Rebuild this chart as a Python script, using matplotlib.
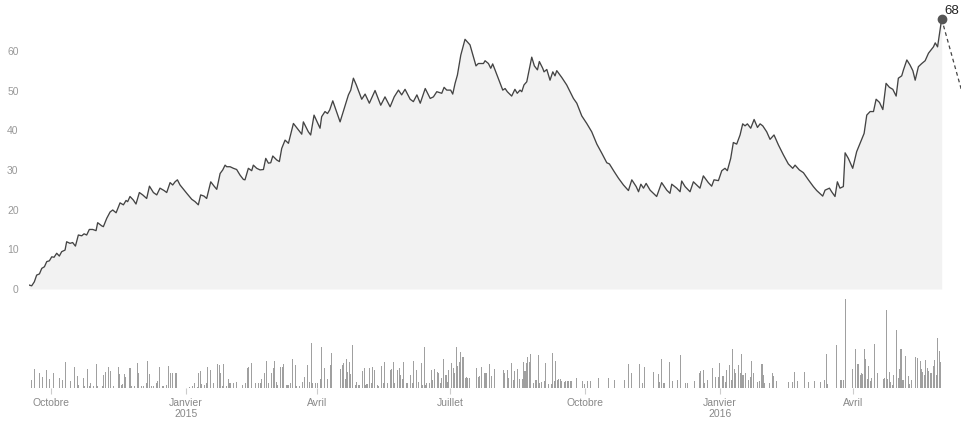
import matplotlib
matplotlib.use("Agg")
import matplotlib.pyplot as plt
import pandas as pd

plt.rcParams['font.family'] = ['Liberation Sans', 'DejaVu Sans']

# days are counted from the first day shown
start = pd.Timestamp('2014-09-16')

# line: vertices (day offset, value)
line_day = [0, 1.8, 3.6, 5.2, 7.1, 8.7, 10.5, 12.1, 13.9, 15.5, 17.1, 18.9, 20.7, 22.3, 24.6, 25.7,
            28.0, 29.8, 31.7, 33.7, 36.0, 37.6, 39.4, 41.2, 43.5, 45.8, 46.9, 49.7, 50.8, 53.1, 55.4,
            57.2, 59.5, 62.2, 64.5, 66.3, 67.4, 69.0, 71.3, 73.1, 75.4, 77.7, 80.4, 82.3, 85.0, 87.3,
            89.5, 92.3, 94.1, 96.4, 98.2, 99.8, 101.4, 103.2, 107.8, 111.2, 113.5, 115.7, 117.3, 119.6,
            121.4, 124.2, 126.5, 128.3, 130.6, 132.4, 134.0, 135.1, 137.4, 139.7, 141.9, 144.2, 146.5,
            147.6, 149.9, 152.2, 153.3, 155.6, 157.9, 160.2, 161.8, 163.6, 165.2, 166.6, 169.3, 171.1,
            172.7, 175.0, 177.3, 180.7, 185.2, 186.4, 187.5, 190.9, 192.5, 194.8, 198.9, 200.0, 202.3,
            204.0, 205.5, 207.6, 209.8, 212.6, 215.8, 218.3, 219.9, 221.7, 223.7, 227.4, 229.7, 232.6,
            236.5, 240.4, 243.3, 246.8, 249.6, 252.5, 254.7, 257.0, 260.5, 262.7, 265.1, 267.4, 270.8,
            274.2, 276.4, 278.7, 282.1, 283.7, 285.5, 288.2, 289.6, 291.2, 292.8, 295.1, 298.0, 301.4,
            305.5, 307.1, 310.6, 311.7, 314.0, 315.6, 316.9, 318.5, 323.8, 325.4, 326.9, 329.9, 332.1,
            333.7, 335.6, 336.8, 338.3, 340.2, 343.6, 345.4, 347.5, 348.8, 351.1, 352.0, 353.9, 356.1,
            358.0, 359.5, 360.7, 364.1, 367.5, 372.1, 374.4, 377.8, 381.2, 384.6, 388.1, 391.5, 394.9,
            396.7, 399.9, 402.9, 406.3, 409.7, 412.0, 415.0, 416.6, 418.2, 420.0, 421.8, 424.5, 426.8,
            429.0, 432.4, 435.9, 438.1, 439.3, 442.7, 445.0, 446.1, 448.4, 451.8, 454.1, 456.4, 458.6,
            460.9, 464.3, 466.6, 468.2, 471.2, 473.5, 475.7, 477.3, 479.6, 481.4, 483.7, 486.0, 487.8,
            489.4, 491.0, 493.3, 495.6, 497.9, 499.7, 501.5, 504.2, 506.5, 509.2, 512.2, 515.6, 519.0,
            522.0, 523.6, 526.5, 529.3, 532.7, 536.1, 538.4, 542.5, 544.1, 547.1, 548.6, 550.9, 552.5,
            554.3, 556.6, 557.8, 560.0, 563.0, 565.7, 568.0, 570.8, 572.6, 574.9, 577.2, 579.0, 581.3,
            583.6, 585.8, 588.1, 590.4, 592.7, 594.2, 596.5, 597.7, 600.0, 602.2, 604.1, 605.7, 607.9,
            610.2, 612.5, 614.8, 618.2, 619.4, 621.0, 623.8]
line_val = [1.0, 0.8, 1.8, 3.5, 3.8, 5.2, 5.6, 6.9, 7.1, 8.1, 8.0, 9.0, 8.3, 9.4, 9.8, 11.9,
            11.5, 11.7, 10.8, 13.6, 13.4, 13.9, 13.6, 15.0, 15.0, 14.7, 16.7, 15.9, 15.7, 17.8, 19.4,
            19.9, 19.2, 21.7, 21.2, 22.3, 22.0, 23.3, 22.4, 21.4, 24.3, 23.7, 22.8, 25.9, 24.3, 23.7,
            25.4, 24.8, 24.3, 26.8, 26.2, 27.0, 27.5, 26.2, 24.1, 22.6, 22.0, 21.2, 23.7, 23.4,
            22.8, 27.0, 25.9, 25.1, 29.1, 30.0, 31.2, 30.8, 30.8, 30.4, 30.1, 28.7, 27.6,
            27.5, 30.4, 29.8, 31.2, 30.4, 30.0, 30.1, 32.9, 31.7, 31.8, 33.5, 32.5, 32.1,
            35.4, 37.5, 36.7, 41.7, 39.6, 39.0, 42.1, 39.6, 38.8, 43.8, 40.5, 43.4, 44.7,
            44.2, 45.1, 47.4, 45.1, 42.1, 45.9, 48.9, 50.1, 53.1, 51.4, 47.8, 49.1, 46.8,
            50.0, 46.3, 48.4, 45.9, 48.4, 50.1, 48.9, 50.3, 47.8, 47.2, 48.9, 46.8, 50.5,
            48.0, 48.4, 49.7, 49.3, 50.8, 50.1, 50.1, 49.1, 51.8, 53.9, 58.9, 62.9, 61.5,
            56.2, 56.8, 56.8, 57.5, 56.8, 55.6, 56.7, 55.2, 50.1, 50.5, 49.7, 48.6, 50.3,
            49.3, 50.1, 49.7, 51.4, 52.2, 58.4, 56.2, 55.2, 57.3, 55.6, 54.7, 55.3, 52.6,
            54.7, 53.7, 55.0, 53.3, 51.4, 48.0, 46.8, 43.6, 41.7, 39.6, 36.5, 34.2, 31.8,
            31.5, 29.6, 27.9, 26.2, 24.8, 27.5, 25.8, 24.5, 26.4, 25.4, 26.6, 24.9, 24.1,
            23.3, 26.8, 24.9, 24.1, 26.4, 25.4, 24.5, 27.2, 25.8, 24.5, 27.0, 26.2, 25.4,
            28.5, 26.8, 25.9, 27.5, 27.3, 29.8, 30.4, 29.8, 32.9, 36.9, 36.5, 38.8, 41.6,
            41.1, 41.6, 40.5, 42.7, 40.7, 41.6, 41.1, 39.6, 37.7, 38.8, 36.3, 33.8, 31.5,
            30.4, 31.2, 30.0, 29.3, 27.5, 25.8, 24.8, 23.4, 24.9, 25.4, 24.5, 23.3, 27.0,
            25.4, 25.8, 34.3, 32.9, 30.4, 34.6, 36.7, 39.2, 43.8, 44.7, 44.7, 47.8, 47.0,
            45.2, 51.8, 50.8, 50.3, 48.6, 53.1, 53.7, 55.2, 57.7, 56.4, 55.0, 52.6, 56.0,
            56.8, 57.5, 59.4, 61.0, 62.0, 61.0, 68.0]

# dashed continuation after the last value
proj_day = [623.8, 645]
proj_val = [68.0, 40.0]

# daily bars in the lower panel (day offset, height)
bar_day = [2, 4, 7, 9, 12, 14, 17, 21, 23, 25, 28, 31, 33, 34, 37, 38, 40, 41, 42, 44, 46, 47, 50, 51,
           52, 54, 56, 58, 61, 62, 63, 64, 65, 66, 69, 70, 72, 74, 75, 77, 78, 80, 81, 82, 84, 85,
           87, 88, 89, 91, 92, 94, 95, 97, 98, 100, 101,
           110, 112, 113, 115, 116, 117, 118, 120, 121, 122, 124, 126, 129, 130, 131, 132, 133, 135,
           136, 137, 138, 140, 142, 146, 148, 149, 150, 152, 155, 157, 158, 159, 161, 162, 164, 166,
           167, 168, 169, 170, 172, 173, 174, 176, 177, 179, 180, 182, 183, 185, 187, 188, 190, 192,
           193, 194, 196, 197, 199, 200, 202, 204, 206, 207,
           213, 214, 215, 216, 217, 218, 219, 220, 221, 223, 224, 225, 226, 228, 229, 230, 231, 233,
           234, 235, 236, 238, 239, 241, 242, 243, 245, 247, 248, 249, 250, 252, 253, 254, 255, 256,
           258, 259, 261, 262, 263, 265, 266, 268, 269, 270, 271, 272, 274, 275, 276, 277, 279, 280,
           281, 282, 283, 285, 286, 287, 289, 290, 291, 292, 293, 294, 295, 296, 297, 298, 299, 300,
           301, 306, 307, 308, 309, 311,
           312, 313, 315, 316, 318, 324, 325, 327, 328, 330, 331, 332, 334, 335, 337, 338, 339, 340,
           341, 342, 343, 345, 346, 347, 348, 349, 350, 352, 353, 355, 357, 358, 359, 360, 361, 362,
           363, 364, 366, 367, 368, 369, 370, 371, 374, 378, 380, 382, 384, 389, 396, 400, 407, 410,
           412,
           417, 419, 421, 427, 430, 431, 432, 434, 438, 440, 443, 445, 449, 450, 455, 458, 459, 461,
           462, 464, 467, 469, 471, 472, 474, 475, 476, 477, 479, 480, 481, 482, 483, 485, 486, 487,
           488, 490, 492, 493, 494, 495, 498, 499, 501, 502, 503, 506, 508, 509, 511, 519,
           522, 523, 525, 530, 533, 537, 541, 544, 545, 546, 552, 555, 557, 558, 563, 565, 566, 567,
           568, 569, 570, 571, 572, 573, 574, 575, 576, 578, 580, 584, 585, 586, 587, 588, 589, 590,
           591, 593, 594, 595, 596, 597, 598, 599, 601, 602, 603, 606, 607, 609, 610, 611, 612, 613,
           614, 615, 616, 617, 618, 619, 620, 621, 622, 623]
bar_val = [8, 19, 15, 11, 18, 9, 15, 10, 8, 26, 7, 21, 12, 3, 10, 2, 19, 2, 5, 2, 24, 2, 2, 13,
           16, 21, 17, 2, 21, 14, 3, 4, 14, 11, 20, 2, 2, 25, 15, 2, 2, 5, 27, 14, 2, 2,
           5, 7, 21, 2, 2, 3, 22, 15, 15, 15, 15,
           1, 2, 5, 1, 15, 17, 4, 3, 5, 21, 18, 5, 24, 23, 15, 2, 24, 2,
           9, 5, 5, 5, 6, 3, 5, 20, 21, 25, 5, 5, 5, 9, 15, 27, 5, 15,
           20, 27, 6, 3, 21, 21, 24, 3, 3, 5, 29, 23, 2, 2, 6, 11, 23, 6,
           45, 5, 5, 5, 9, 41, 20, 9, 23, 35,
           19, 23, 25, 9, 29, 16, 26, 14, 43, 3, 6, 3, 3, 17, 20, 3, 4, 20,
           5, 21, 18, 3, 2, 22, 5, 26, 5, 18, 19, 26, 5, 18, 20, 13, 9, 26,
           5, 5, 13, 5, 27, 18, 6, 25, 3, 41, 3, 5, 5, 18, 8, 19, 16, 15,
           5, 10, 29, 13, 6, 18, 25, 20, 15, 41, 22, 26, 36, 31, 31, 10, 11, 10,
           10, 20, 11, 12, 21, 15,
           15, 15, 24, 12, 19, 18, 15, 18, 10, 25, 8, 17, 19, 9, 9, 26, 17, 25,
           31, 26, 34, 5, 8, 8, 33, 5, 6, 7, 25, 4, 4, 35, 7, 27, 8, 9,
           9, 7, 6, 7, 7, 7, 7, 7, 10, 7, 4, 7, 7, 10, 10, 8, 8, 24,
           15,
           24, 5, 21, 16, 14, 6, 29, 5, 26, 7, 8, 33, 5, 5, 7, 15, 17, 18,
           5, 8, 20, 11, 11, 25, 12, 12, 6, 18, 23, 8, 39, 19, 15, 23, 15, 34,
           13, 15, 8, 11, 27, 15, 6, 7, 24, 13, 5, 5, 15, 12, 7, 6,
           6, 16, 7, 16, 6, 7, 6, 8, 34, 4, 43, 8, 8, 89, 19, 39, 24, 24,
           13, 15, 14, 39, 29, 9, 22, 7, 10, 44, 15, 9, 10, 78, 9, 16, 6, 3,
           13, 58, 10, 19, 39, 8, 8, 32, 12, 4, 8, 31, 30, 27, 19, 16, 13, 28,
           20, 17, 15, 15, 22, 28, 13, 50, 37, 26]

y_ticks = [0, 10, 20, 30, 40, 50, 60]
month_dates = ['2014-10-01', '2015-01-01', '2015-04-01', '2015-07-01',
               '2015-10-01', '2016-01-01', '2016-04-01']
month_labels = ['Octobre', 'Janvier\n2015', 'Avril', 'Juillet',
                'Octobre', 'Janvier\n2016', 'Avril']
month_pos = [(pd.Timestamp(d) - start).days for d in month_dates]

x_max = 637.7

fig = plt.figure(figsize=(9.62, 4.23), dpi=100)
ax = fig.add_axes([0.0302, 0.3168, 0.9698, 0.6832])
axb = fig.add_axes([0.0302, 0.0827, 0.9698, 0.2175])

# top panel
ax.fill_between(line_day, line_val, 0, color='#f2f2f2', lw=0)
ax.plot(line_day, line_val, color='#444444', lw=0.95)
ax.plot(proj_day, proj_val, color='#444444', lw=0.9, ls=(0, (3, 2.5)))
ax.plot(line_day[-1], line_val[-1], 'o', color='#555555', ms=6)
ax.annotate(f'{line_val[-1]:.0f}', (line_day[-1], line_val[-1]), xytext=(2, 6),
            textcoords='offset points', ha='left', va='center', fontsize=9.5,
            color='#222222', annotation_clip=False)
ax.set_xlim(0, x_max)
ax.set_ylim(0, 72.8)
ax.set_yticks(y_ticks)
ax.set_xticks([])
ax.tick_params(axis='y', length=0, pad=7.5, labelsize=7.5, labelcolor='#999999')
for s in ax.spines.values():
    s.set_visible(False)

# bottom panel
axb.bar(bar_day, bar_val, width=0.7, color='#a0a0a0', lw=0)
axb.set_xlim(0, x_max)
axb.set_ylim(0, 92)
axb.set_yticks([])
axb.set_xticks(month_pos)
axb.set_xticklabels(month_labels)
axb.tick_params(axis='x', length=4, width=0.8, color='#cccccc', pad=3,
                labelsize=7.5, labelcolor='#888888')
for s in axb.spines.values():
    s.set_visible(False)

fig.savefig('out.png', dpi=100)
